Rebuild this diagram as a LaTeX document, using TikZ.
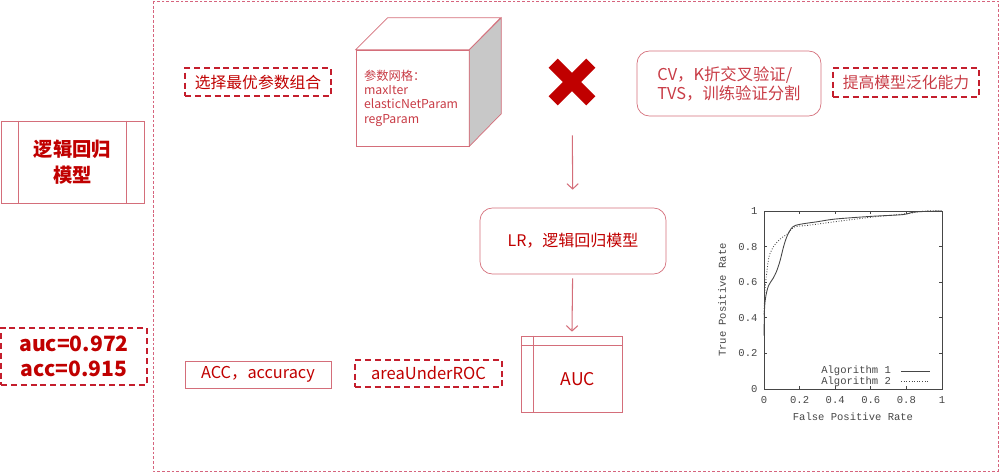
\documentclass[tikz,border=0pt]{standalone}
\usepackage{fontspec}
\setmainfont{Noto Sans CJK SC}
\newfontfamily\plotfont{Liberation Mono}
\usetikzlibrary{arrows.meta}
\definecolor{txtred}{RGB}{192,0,0}
\definecolor{softred}{RGB}{200,60,70}
\definecolor{lined}{RGB}{212,110,122}
\definecolor{dashred}{RGB}{196,30,45}
\definecolor{framered}{RGB}{214,100,125}
\definecolor{plotgray}{RGB}{70,70,70}
\begin{document}
\begin{tikzpicture}[x=0.02cm,y=-0.02cm,
	box/.style={draw=lined,text=txtred,inner sep=0pt},
	dbox/.style={draw=dashred,line width=0.8pt,dash pattern=on 3.4pt off 2.2pt,text=txtred,inner sep=0pt},
	rbox/.style={box,rounded corners=7pt},
	arr/.style={-{Straight Barb[length=3pt,width=6.5pt]},draw=lined,line width=0.6pt},
	lbl/.style={font=\plotfont\fontsize{6}{7}\selectfont,text=plotgray,inner sep=1pt}]
	\useasboundingbox (0,0) rectangle (1000,473);
	\draw[framered,line width=0.5pt,dash pattern=on 1.6pt off 1.1pt] (153,1) rectangle (998,471);

	% left column
	\node[box,minimum width=2.86cm,minimum height=1.64cm,align=center,font=\bfseries\fontsize{11}{14.5}\selectfont] (model) at (72.5,162) {逻辑回归\\模型};
	\draw[lined] ([xshift=0.36cm]model.north west) -- ([xshift=0.36cm]model.south west);
	\draw[lined] ([xshift=-0.36cm]model.north east) -- ([xshift=-0.36cm]model.south east);
	\node[dbox,minimum width=2.92cm,minimum height=1.14cm,align=center,font=\bfseries\fontsize{12}{14.2}\selectfont] (metric) at (74,356.5) {auc=0.972\\acc=0.915};

	% top row
	\node[dbox,minimum width=2.92cm,minimum height=0.56cm,font=\fontsize{9}{11}\selectfont] (select) at (258,82) {选择最优参数组合};
	\node[box,text=softred,minimum width=2.26cm,minimum height=1.92cm,text width=1.94cm,inner xsep=0.16cm,align=left,font=\fontsize{7}{8.1}\selectfont] (grid) at (412.5,98) {参数网格：\\maxIter\\elasticNetParam\\regParam};
	\draw[lined] (grid.north west) -- ++(32,-32) -- ++(113,0) -- (grid.north east) -- cycle;
	\draw[lined,fill={rgb,255:red,200;green,200;blue,200}] (grid.north east) -- ++(32,-32) -- ++(0,96) -- (grid.south east) -- cycle;
	\node[minimum size=0.74cm,inner sep=0pt] (cross) at (572,82) {};
	\draw[txtred,line width=7.4pt] (cross.north west) -- (cross.south east);
	\draw[txtred,line width=7.4pt] (cross.north east) -- (cross.south west);
	\node[rbox,text=softred,minimum width=3.68cm,minimum height=1.3cm,align=left,font=\fontsize{9.3}{10.8}\selectfont] (cv) at (729,83.5) {CV，K折交叉验证/\\TVS，训练验证分割};
	\node[dbox,text=softred,minimum width=2.92cm,minimum height=0.58cm,font=\fontsize{9}{11}\selectfont] (improve) at (906,82.5) {提高模型泛化能力};

	% middle
	\node[rbox,minimum width=3.72cm,minimum height=1.32cm,font=\fontsize{9.1}{11}\selectfont] (lr) at (573,241) {LR，逻辑回归模型};
	\draw[arr,shorten <=0.69cm,shorten >=0.36cm] (cross) -- (lr);

	% bottom row
	\node[box,minimum width=2.92cm,minimum height=0.54cm,font=\fontsize{9.3}{11}\selectfont] (acc) at (258,374.5) {ACC，accuracy};
	\node[dbox,minimum width=2.94cm,minimum height=0.54cm,font=\fontsize{9.4}{11}\selectfont] (roc) at (428.5,373.5) {areaUnderROC};
	\node[box,minimum width=2.02cm,minimum height=1.52cm] (aucbox) at (571.5,374) {};
	\draw[lined] ([yshift=-0.2cm]aucbox.north west) -- ([yshift=-0.2cm]aucbox.north east);
	\draw[lined] ([xshift=0.26cm]aucbox.north west) -- ([xshift=0.26cm]aucbox.south west);
	\node[text=txtred,font=\fontsize{10}{12}\selectfont] (auclabel) at (578,379) {AUC};
	\draw[arr,shorten <=0.08cm,shorten >=0.08cm] (lr) -- (aucbox);

	% ROC curve
	\begin{scope}[shift={(764,389)},x=3.56cm,y=3.56cm]
		\draw[plotgray,line width=0.5pt] (0,0) rectangle (1,1);
		\foreach \t/\l [count=\i] in {0/0,0.2/0.2,0.4/0.4,0.6/0.6,0.8/0.8,1/1}{
			\draw[plotgray,line width=0.4pt] (\t,0) -- (\t,0.017) (\t,1) -- (\t,0.983);
			\draw[plotgray,line width=0.4pt] (0,\t) -- (0.017,\t) (1,\t) -- (0.983,\t);
			\node[lbl,anchor=east] (yl\i) at (-0.025,\t) {\l};
			\node[lbl,anchor=north] (xl\i) at (\t,-0.03) {\l};
		}
		\node[lbl] (xaxis) at (0.5,-0.157) {False Positive Rate};
		\node[lbl,rotate=90] (yaxis) at (-0.236,0.5) {True Positive Rate};
		\node[lbl,anchor=east] (alg1) at (0.725,0.10) {Algorithm 1};
		\node[lbl,anchor=east] (alg2) at (0.725,0.04) {Algorithm 2};
		\draw[plotgray,line width=0.5pt] (0.77,0.10) -- (0.93,0.10);
		\draw[plotgray,line width=0.5pt,densely dotted] (0.77,0.04) -- (0.93,0.04);
		\draw[plotgray,line width=0.5pt] plot[smooth,tension=0.5] coordinates {(0,0.3) (0.003,0.45) (0.01,0.52) (0.025,0.58) (0.05,0.62) (0.07,0.66) (0.09,0.72) (0.11,0.80) (0.13,0.86) (0.16,0.91) (0.2,0.925) (0.3,0.94) (0.4,0.955) (0.6,0.97) (0.78,0.98) (0.85,0.995) (1,1)};
		\draw[plotgray,line width=0.5pt,densely dotted] plot[smooth,tension=0.5] coordinates {(0,0.42) (0.005,0.55) (0.015,0.65) (0.03,0.75) (0.06,0.81) (0.1,0.85) (0.13,0.87) (0.17,0.91) (0.25,0.92) (0.4,0.94) (0.6,0.965) (0.8,0.985) (0.9,1) (1,1)};
	\end{scope}
\end{tikzpicture}
\end{document}
